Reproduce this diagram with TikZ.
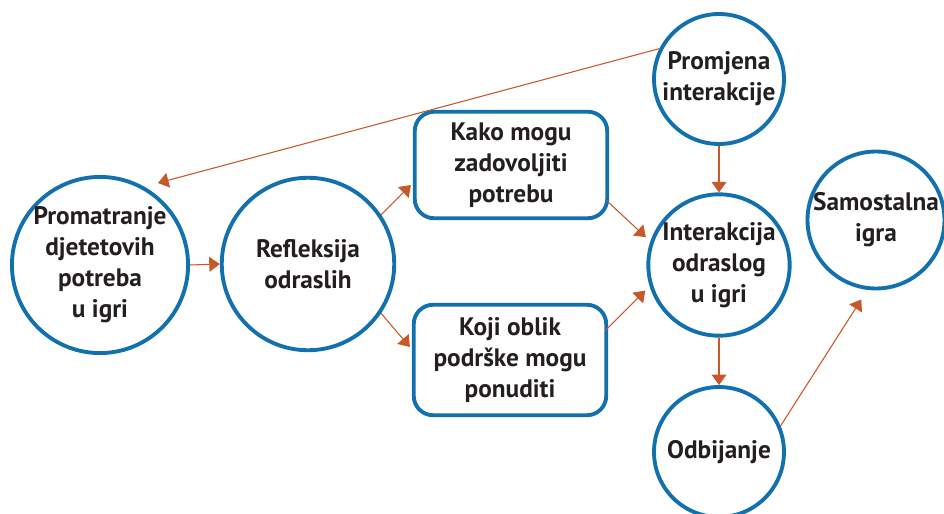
\documentclass[tikz,border=0pt]{standalone}
\usepackage{fontspec}
\setmainfont{PT Sans}
\usetikzlibrary{positioning, arrows.meta}
\definecolor{ringblue}{RGB}{18,112,174}
\definecolor{linkorange}{RGB}{200,88,40}
\definecolor{textdark}{RGB}{35,31,32}

\begin{document}
\begin{tikzpicture}[x=0.02cm, y=-0.02cm, >={Triangle[length=6pt, width=8.5pt]},
      bubble/.style={draw=ringblue, line width=2.2pt, circle, align=center, inner sep=0pt, text=textdark, font=\bfseries\fontsize{14.4}{17.6}\selectfont},
      card/.style={draw=ringblue, line width=2.2pt, rounded corners=11pt, align=center, inner sep=0pt, text=textdark, font=\bfseries\fontsize{14.4}{17.6}\selectfont, minimum width=3.85cm, minimum height=2.13cm},
      link/.style={->, draw=linkorange, fill=linkorange, line width=0.6pt}]

    \useasboundingbox (0,0) rectangle (944,514);

    \node[bubble, minimum size=3.45cm] (promatranje) at (100,265) {Promatranje\\djetetovih\\potreba\\u igri};
    \node[bubble, minimum size=3.45cm] (refleksija) at (308,264) {Refleksija\\odraslih};
    \node[card] (kako) at (511,165) {Kako mogu\\zadovoljiti\\potrebu};
    \node[card, minimum height=2.21cm] (koji) at (510,360) {Koji oblik\\podrške mogu\\ponuditi};
    \node[bubble, minimum size=2.6cm] (promjena) at (719,79) {Promjena\\interakcije};
    \node[bubble, minimum size=2.6cm] (interakcija) at (719,265) {Interakcija\\odraslog\\u igri};
    \node[bubble, minimum size=2.6cm] (odbijanje) at (719,452) {Odbijanje};
    \node[bubble, minimum size=2.5cm] (samostalna) at (876,220) {Samostalna\\igra};

    \coordinate (backtip) at (158,183);

    \draw[link] (promjena.153) -- (backtip);
    \draw[link] (promatranje.east) -- (refleksija.west);
    \draw[link] (refleksija.34) -- ([shift={(-2,20)}]kako.west);
    \draw[link] (refleksija.-34) -- ([shift={(-2,-13)}]koji.west);
    \draw[link, shorten >=3.5pt] ([shift={(-3,-20)}]kako.south east) -- (interakcija.161);
    \draw[link, shorten >=3.5pt] ([shift={(-3,28)}]koji.north east) -- (interakcija.197);
    \draw[link] (promjena.south) -- (interakcija.north);
    \draw[link] (interakcija.south) -- (odbijanje.north);
    \draw[link, shorten >=6.5pt] (odbijanje.23) -- (samostalna.263);
  \end{tikzpicture}
\end{document}
